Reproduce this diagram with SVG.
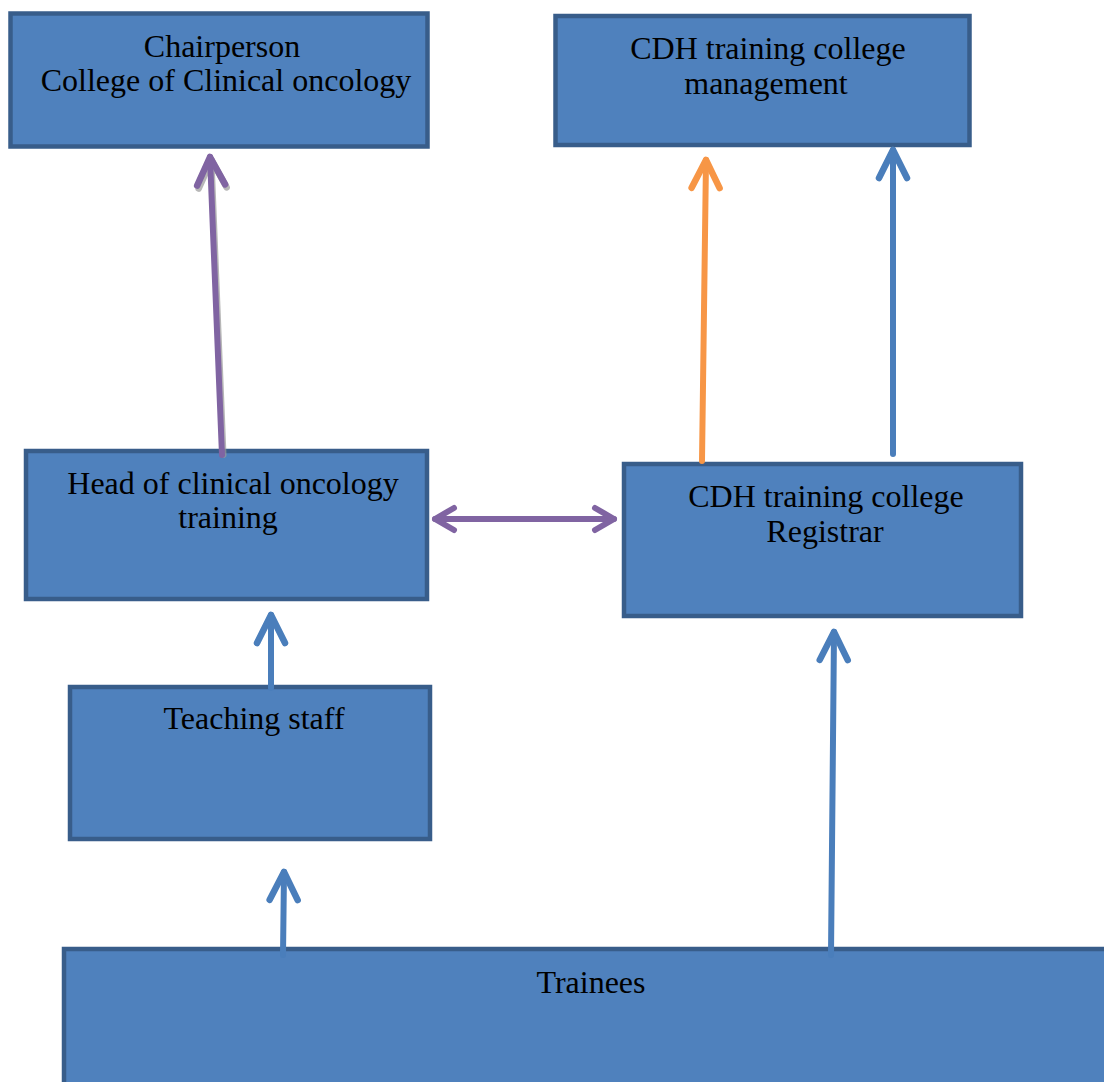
<svg xmlns="http://www.w3.org/2000/svg" width="1104" height="1082" viewBox="0 0 1104 1082">
<defs>
<style>
.box{fill:#4F81BD;stroke:#385D8A;stroke-width:4.5}
.t{font-family:"Liberation Serif","Times New Roman",serif;font-size:32px;fill:#000;text-anchor:middle}
.c{fill:none;stroke-width:6;stroke-linecap:round;stroke-linejoin:round}
.p{stroke:#8064A2}.o{stroke:#F79646}.b{stroke:#4A7EBB}
</style>
<marker id="mp" markerUnits="userSpaceOnUse" orient="auto" markerWidth="80" markerHeight="80" refX="0" refY="0" viewBox="-40 -40 80 80" overflow="visible"><path d="M-28,-14 L0,0 L-28,14" fill="none" stroke="#8064A2" stroke-width="6.5" stroke-linecap="round" stroke-linejoin="round"/></marker>
<marker id="mg" markerUnits="userSpaceOnUse" orient="auto" markerWidth="80" markerHeight="80" refX="0" refY="0" viewBox="-40 -40 80 80" overflow="visible"><path d="M-28,-14 L0,0 L-28,14" fill="none" stroke="#9a9a9a" stroke-width="6.5" stroke-linecap="round" stroke-linejoin="round"/></marker>
<marker id="md" markerUnits="userSpaceOnUse" orient="auto-start-reverse" markerWidth="80" markerHeight="80" refX="0" refY="0" viewBox="-40 -40 80 80" overflow="visible"><path d="M-19,-11 L0,0 L-19,11" fill="none" stroke="#8064A2" stroke-width="6" stroke-linecap="round" stroke-linejoin="round"/></marker>
<marker id="mo" markerUnits="userSpaceOnUse" orient="auto" markerWidth="80" markerHeight="80" refX="0" refY="0" viewBox="-40 -40 80 80" overflow="visible"><path d="M-28,-14 L0,0 L-28,14" fill="none" stroke="#F79646" stroke-width="6.5" stroke-linecap="round" stroke-linejoin="round"/></marker>
<marker id="mb" markerUnits="userSpaceOnUse" orient="auto" markerWidth="80" markerHeight="80" refX="0" refY="0" viewBox="-40 -40 80 80" overflow="visible"><path d="M-28,-14 L0,0 L-28,14" fill="none" stroke="#4A7EBB" stroke-width="6.5" stroke-linecap="round" stroke-linejoin="round"/></marker>
</defs>
<rect width="1104" height="1082" fill="#fff"/>
<g id="chair"><rect class="box" x="10.5" y="13.5" width="417" height="133"/><text class="t" x="222" y="57">Chairperson</text><text class="t" x="226" y="91">College of Clinical oncology</text></g>
<g id="mgmt"><rect class="box" x="555.5" y="16" width="414" height="129"/><text class="t" x="768" y="59">CDH training college</text><text class="t" x="766" y="94">management</text></g>
<g id="head"><rect class="box" x="26" y="451" width="401" height="148"/><text class="t" x="233" y="494">Head of clinical oncology</text><text class="t" x="228" y="528">training</text></g>
<g id="registrar"><rect class="box" x="624" y="464" width="397" height="152"/><text class="t" x="826" y="507">CDH training college</text><text class="t" x="825" y="542">Registrar</text></g>
<g id="teaching"><rect class="box" x="70" y="687" width="360" height="152"/><text class="t" x="254" y="729">Teaching staff</text></g>
<g id="trainees"><rect class="box" x="64" y="949" width="1045" height="140"/><text class="t" x="591" y="993">Trainees</text></g>
<g id="connectors">
<line class="c" x1="223.5" y1="455" x2="211.5" y2="160" stroke="#9a9a9a" opacity="0.7" marker-end="url(#mg)"/>
<line class="c p" x1="222" y1="455" x2="210" y2="157" marker-end="url(#mp)"/>
<line class="c o" x1="702" y1="461" x2="706" y2="160" marker-end="url(#mo)"/>
<line class="c b" x1="893" y1="454" x2="893" y2="150" marker-end="url(#mb)"/>
<line class="c p" x1="435" y1="519" x2="614" y2="519" marker-start="url(#md)" marker-end="url(#md)"/>
<line class="c b" x1="271" y1="688" x2="271" y2="615" marker-end="url(#mb)"/>
<line class="c b" x1="283" y1="955" x2="284" y2="872" marker-end="url(#mb)"/>
<line class="c b" x1="831" y1="955" x2="834" y2="632" marker-end="url(#mb)"/>
</g>
</svg>
